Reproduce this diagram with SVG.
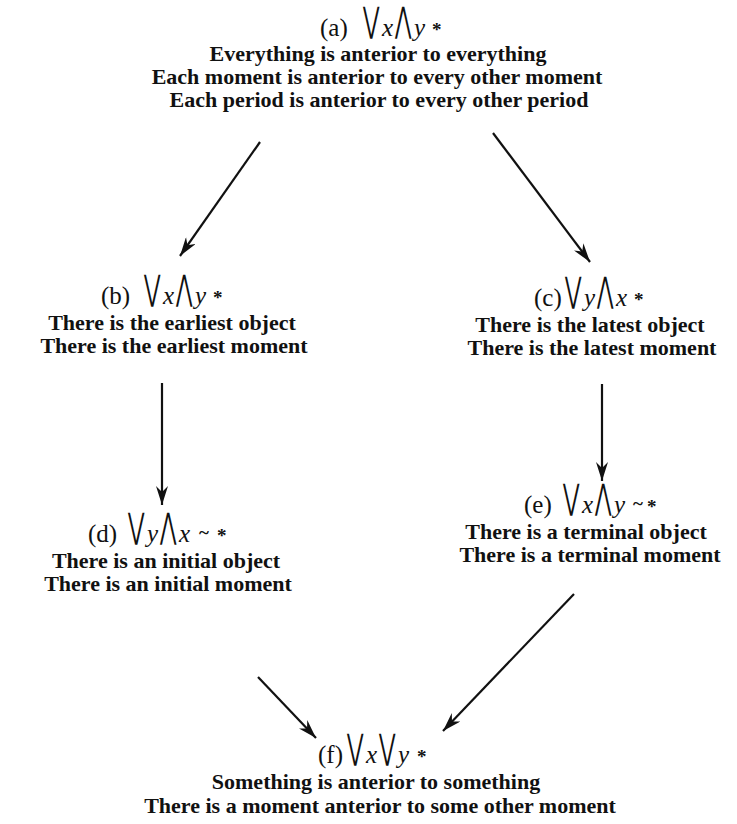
<svg xmlns="http://www.w3.org/2000/svg" width="737" height="824" viewBox="0 0 737 824">
<defs>
<style>
.t{font-family:"Liberation Serif","Times New Roman",serif;font-weight:bold;font-size:22px;fill:#111;text-anchor:middle}
.h{font-family:"Liberation Serif","Times New Roman",serif;font-size:25px;fill:#111}
.v{font-family:"Liberation Serif","Times New Roman",serif;font-style:italic;font-size:25px;fill:#111}
.s{font-family:"DejaVu Sans",sans-serif;font-size:20px;fill:#111}
.st{font-family:"Liberation Serif","Times New Roman",serif;font-weight:bold;font-size:19px;fill:#111}
.c{stroke:#111;stroke-width:2.2;fill:none}
</style>
<marker id="ah" viewBox="0 0 20 12" refX="19" refY="6" markerWidth="20" markerHeight="12" markerUnits="userSpaceOnUse" orient="auto">
<path d="M0,0 L19,6 L0,12 L6,6 Z" fill="#111"/>
</marker>
</defs>
<rect width="737" height="824" fill="#fff"/>
<g id="connectors">
<line class="c" x1="260" y1="142" x2="180" y2="256" marker-end="url(#ah)"/>
<line class="c" x1="493" y1="133" x2="590" y2="262" marker-end="url(#ah)"/>
<line class="c" x1="162" y1="383" x2="162" y2="505" marker-end="url(#ah)"/>
<line class="c" x1="602" y1="384" x2="602" y2="481" marker-end="url(#ah)"/>
<line class="c" x1="258" y1="677" x2="316" y2="738" marker-end="url(#ah)"/>
<line class="c" x1="574" y1="594" x2="443" y2="731" marker-end="url(#ah)"/>
</g>
<g id="node-a">
<text class="h" x="320" y="36">(a)</text>
<text class="s" transform="translate(363 32) scale(1 1.75)">⋁</text>
<text class="v" x="382" y="36">x</text>
<text class="s" transform="translate(395 32) scale(1 1.75)">⋀</text>
<text class="v" x="414" y="36">y</text>
<text class="st" x="432" y="36">*</text>
<text class="t" x="378" y="61">Everything is anterior to everything</text>
<text class="t" x="377" y="84">Each moment is anterior to every other moment</text>
<text class="t" x="379" y="107">Each period is anterior to every other period</text>
</g>
<g id="node-b">
<text class="h" x="101" y="304">(b)</text>
<text class="s" transform="translate(144 300) scale(1 1.75)">⋁</text>
<text class="v" x="163" y="304">x</text>
<text class="s" transform="translate(176 300) scale(1 1.75)">⋀</text>
<text class="v" x="195" y="304">y</text>
<text class="st" x="213" y="304">*</text>
<text class="t" x="172" y="330">There is the earliest object</text>
<text class="t" x="174" y="353">There is the earliest moment</text>
</g>
<g id="node-c">
<text class="h" x="534" y="306">(c)</text>
<text class="s" transform="translate(565 302) scale(1 1.75)">⋁</text>
<text class="v" x="584" y="306">y</text>
<text class="s" transform="translate(597 302) scale(1 1.75)">⋀</text>
<text class="v" x="616" y="306">x</text>
<text class="st" x="634" y="306">*</text>
<text class="t" x="590" y="332">There is the latest object</text>
<text class="t" x="592" y="355">There is the latest moment</text>
</g>
<g id="node-d">
<text class="h" x="88" y="542">(d)</text>
<text class="s" transform="translate(128 538) scale(1 1.75)">⋁</text>
<text class="v" x="147" y="542">y</text>
<text class="s" transform="translate(160 538) scale(1 1.75)">⋀</text>
<text class="v" x="179" y="542">x</text>
<text class="st" x="199" y="539">~</text>
<text class="st" x="217" y="542">*</text>
<text class="t" x="166" y="568">There is an initial object</text>
<text class="t" x="168" y="591">There is an initial moment</text>
</g>
<g id="node-e">
<text class="h" x="524" y="513">(e)</text>
<text class="s" transform="translate(563 509) scale(1 1.75)">⋁</text>
<text class="v" x="582" y="513">x</text>
<text class="s" transform="translate(595 509) scale(1 1.75)">⋀</text>
<text class="v" x="614" y="513">y</text>
<text class="st" x="633" y="510">~</text>
<text class="st" x="647" y="513">*</text>
<text class="t" x="586" y="539">There is a terminal object</text>
<text class="t" x="590" y="562">There is a terminal moment</text>
</g>
<g id="node-f">
<text class="h" x="318" y="763">(f)</text>
<text class="s" transform="translate(347 759) scale(1 1.75)">⋁</text>
<text class="v" x="366" y="763">x</text>
<text class="s" transform="translate(379 759) scale(1 1.75)">⋁</text>
<text class="v" x="398" y="763">y</text>
<text class="st" x="417" y="763">*</text>
<text class="t" x="376" y="789">Something is anterior to something</text>
<text class="t" x="380" y="813">There is a moment anterior to some other moment</text>
</g>
</svg>
